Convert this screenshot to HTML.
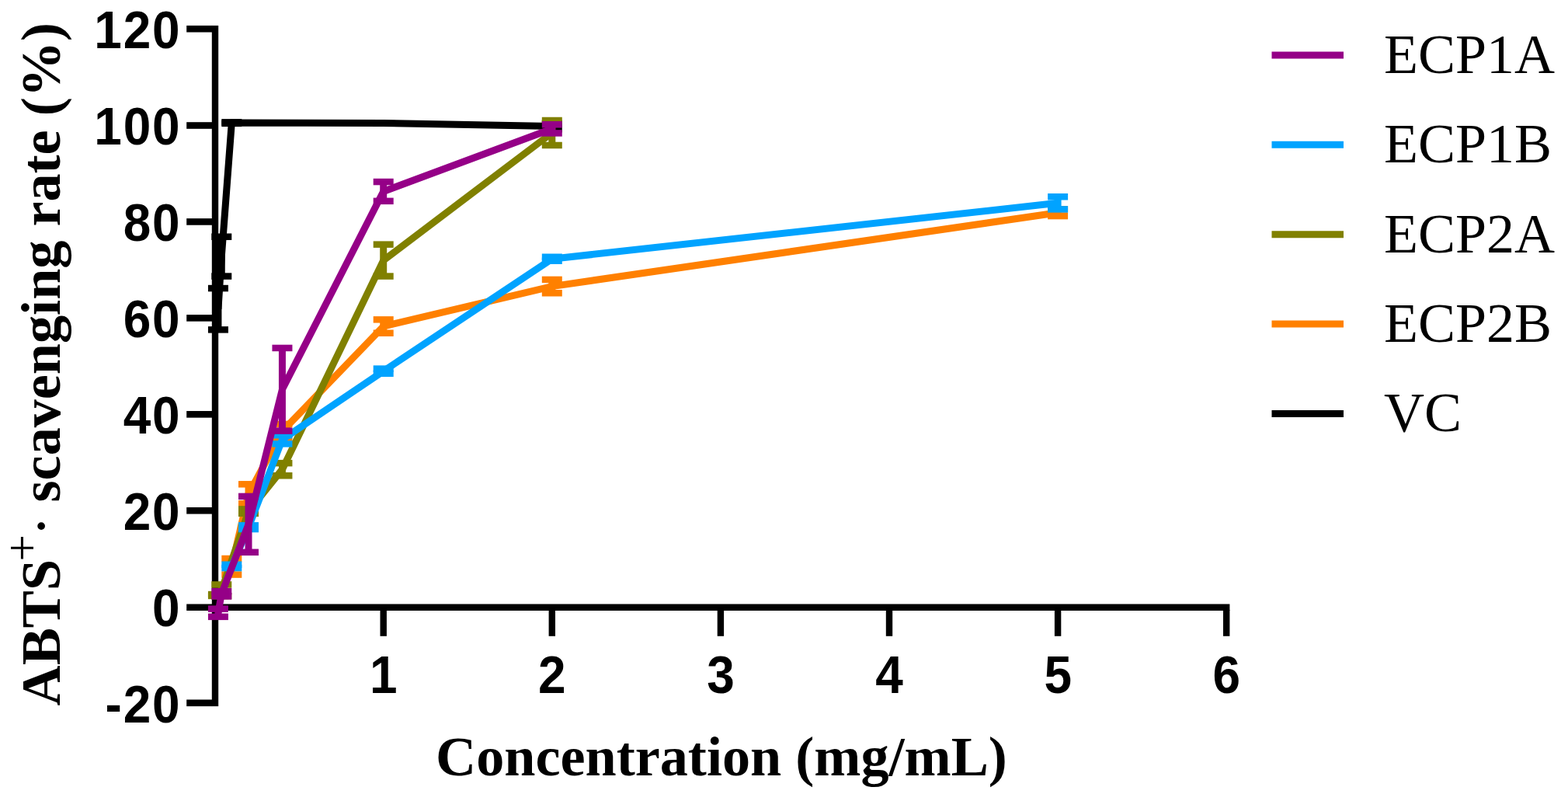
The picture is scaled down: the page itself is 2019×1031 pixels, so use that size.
<!DOCTYPE html>
<html><head><meta charset="utf-8"><title>ABTS scavenging rate</title>
<style>
html,body{margin:0;padding:0;background:#fff;}
svg{display:block;}
.tk{font-family:"Liberation Sans",Arial,sans-serif;font-weight:bold;font-size:68px;fill:#000;}
.lg{font-family:"Liberation Serif","Times New Roman",serif;font-size:72px;fill:#000;}
.ttl{font-family:"Liberation Serif","Times New Roman",serif;font-weight:bold;font-size:72.2px;fill:#000;}
</style></head>
<body>
<svg width="2019" height="1031" viewBox="0 0 2019 1031">
<rect width="2019" height="1031" fill="#fff"/>
<g fill="#000">
<rect x="272.8" y="32.9" width="8.4" height="876.2"/>
<rect x="240.2" y="777.5" width="1343.2" height="8.5"/>
<rect x="240.2" y="32.9" width="33" height="8.6"/>
<rect x="240.2" y="157.2" width="33" height="8.6"/>
<rect x="240.2" y="281.14" width="33" height="8.6"/>
<rect x="240.2" y="405.08" width="33" height="8.6"/>
<rect x="240.2" y="529.02" width="33" height="8.6"/>
<rect x="240.2" y="652.96" width="33" height="8.6"/>
<rect x="240.2" y="900.5" width="33" height="8.6"/>
<rect x="489.5" y="785" width="8.4" height="33.8"/>
<rect x="706.6" y="785" width="8.4" height="33.8"/>
<rect x="923.7" y="785" width="8.4" height="33.8"/>
<rect x="1140.8" y="785" width="8.4" height="33.8"/>
<rect x="1357.9" y="785" width="8.4" height="33.8"/>
<rect x="1575" y="785" width="8.4" height="33.8"/>
</g>
<g stroke-linecap="butt">
<g stroke="#000000"><line x1="280.94" y1="371.06" x2="280.94" y2="424.38" stroke-width="9.0"/><line x1="267.94" y1="371.06" x2="293.94" y2="371.06" stroke-width="8.5"/><line x1="267.94" y1="424.38" x2="293.94" y2="424.38" stroke-width="8.5"/><line x1="285.28" y1="304.72" x2="285.28" y2="355.56" stroke-width="9.0"/><line x1="272.28" y1="304.72" x2="298.28" y2="304.72" stroke-width="8.5"/><line x1="272.28" y1="355.56" x2="298.28" y2="355.56" stroke-width="8.5"/><line x1="298.31" y1="157.35" x2="298.31" y2="158.83" stroke-width="9.0"/><line x1="285.31" y1="157.35" x2="311.31" y2="157.35" stroke-width="8.5"/><line x1="285.31" y1="158.83" x2="311.31" y2="158.83" stroke-width="8.5"/><line x1="710.8" y1="158.77" x2="710.8" y2="166.21" stroke-width="9.0"/><line x1="697.8" y1="158.77" x2="723.8" y2="158.77" stroke-width="8.5"/><line x1="697.8" y1="166.21" x2="723.8" y2="166.21" stroke-width="8.5"/><polyline points="280.94,397.72 285.28,330.14 298.31,158.09 493.7,158.4 710.8,162.49" stroke-width="9.0" fill="none" stroke-linejoin="round"/></g>
<g stroke="#FF8000"><line x1="298.31" y1="719" x2="298.31" y2="739.59" stroke-width="9.0"/><line x1="285.31" y1="719" x2="311.31" y2="719" stroke-width="8.5"/><line x1="285.31" y1="739.59" x2="311.31" y2="739.59" stroke-width="8.5"/><line x1="320.02" y1="623.28" x2="320.02" y2="648.32" stroke-width="9.0"/><line x1="307.02" y1="623.28" x2="333.02" y2="623.28" stroke-width="8.5"/><line x1="307.02" y1="648.32" x2="333.02" y2="648.32" stroke-width="8.5"/><line x1="363.44" y1="545.9" x2="363.44" y2="564.5" stroke-width="9.0"/><line x1="350.44" y1="545.9" x2="376.44" y2="545.9" stroke-width="8.5"/><line x1="350.44" y1="564.5" x2="376.44" y2="564.5" stroke-width="8.5"/><line x1="493.7" y1="411.36" x2="493.7" y2="428.72" stroke-width="9.0"/><line x1="480.7" y1="411.36" x2="506.7" y2="411.36" stroke-width="8.5"/><line x1="480.7" y1="428.72" x2="506.7" y2="428.72" stroke-width="8.5"/><line x1="710.8" y1="359.9" x2="710.8" y2="377.26" stroke-width="9.0"/><line x1="697.8" y1="359.9" x2="723.8" y2="359.9" stroke-width="8.5"/><line x1="697.8" y1="377.26" x2="723.8" y2="377.26" stroke-width="8.5"/><line x1="1362.1" y1="269.38" x2="1362.1" y2="278.06" stroke-width="9.0"/><line x1="1349.1" y1="269.38" x2="1375.1" y2="269.38" stroke-width="8.5"/><line x1="1349.1" y1="278.06" x2="1375.1" y2="278.06" stroke-width="8.5"/><polyline points="298.31,729.3 320.02,635.8 363.44,555.2 493.7,420.04 710.8,368.58 1362.1,273.72" stroke-width="9.0" fill="none" stroke-linejoin="round"/></g>
<g stroke="#808000"><line x1="280.94" y1="765.07" x2="280.94" y2="766.93" stroke-width="9.0"/><line x1="267.94" y1="765.07" x2="293.94" y2="765.07" stroke-width="8.5"/><line x1="267.94" y1="766.93" x2="293.94" y2="766.93" stroke-width="8.5"/><line x1="285.28" y1="752.48" x2="285.28" y2="767.12" stroke-width="9.0"/><line x1="272.28" y1="752.48" x2="298.28" y2="752.48" stroke-width="8.5"/><line x1="272.28" y1="767.12" x2="298.28" y2="767.12" stroke-width="8.5"/><line x1="320.02" y1="655.39" x2="320.02" y2="660.85" stroke-width="9.0"/><line x1="307.02" y1="655.39" x2="333.02" y2="655.39" stroke-width="8.5"/><line x1="307.02" y1="660.85" x2="333.02" y2="660.85" stroke-width="8.5"/><line x1="363.44" y1="596.12" x2="363.44" y2="612.24" stroke-width="9.0"/><line x1="350.44" y1="596.12" x2="376.44" y2="596.12" stroke-width="8.5"/><line x1="350.44" y1="612.24" x2="376.44" y2="612.24" stroke-width="8.5"/><line x1="493.7" y1="314.64" x2="493.7" y2="355.56" stroke-width="9.0"/><line x1="480.7" y1="314.64" x2="506.7" y2="314.64" stroke-width="8.5"/><line x1="480.7" y1="355.56" x2="506.7" y2="355.56" stroke-width="8.5"/><line x1="710.8" y1="154.99" x2="710.8" y2="186.98" stroke-width="9.0"/><line x1="697.8" y1="154.99" x2="723.8" y2="154.99" stroke-width="8.5"/><line x1="697.8" y1="186.98" x2="723.8" y2="186.98" stroke-width="8.5"/><polyline points="280.94,766 285.28,759.8 320.02,658.12 363.44,604.18 493.7,335.1 710.8,170.99" stroke-width="9.0" fill="none" stroke-linejoin="round"/></g>
<g stroke="#00A3FF"><line x1="298.31" y1="726.75" x2="298.31" y2="731.09" stroke-width="9.0"/><line x1="285.31" y1="726.75" x2="311.31" y2="726.75" stroke-width="8.5"/><line x1="285.31" y1="731.09" x2="311.31" y2="731.09" stroke-width="8.5"/><line x1="320.02" y1="676.35" x2="320.02" y2="681.06" stroke-width="9.0"/><line x1="307.02" y1="676.35" x2="333.02" y2="676.35" stroke-width="8.5"/><line x1="307.02" y1="681.06" x2="333.02" y2="681.06" stroke-width="8.5"/><line x1="363.44" y1="560.16" x2="363.44" y2="571.32" stroke-width="9.0"/><line x1="350.44" y1="560.16" x2="376.44" y2="560.16" stroke-width="8.5"/><line x1="350.44" y1="571.32" x2="376.44" y2="571.32" stroke-width="8.5"/><line x1="493.7" y1="474.6" x2="493.7" y2="480.8" stroke-width="9.0"/><line x1="480.7" y1="474.6" x2="506.7" y2="474.6" stroke-width="8.5"/><line x1="480.7" y1="480.8" x2="506.7" y2="480.8" stroke-width="8.5"/><line x1="710.8" y1="330.76" x2="710.8" y2="335.72" stroke-width="9.0"/><line x1="697.8" y1="330.76" x2="723.8" y2="330.76" stroke-width="8.5"/><line x1="697.8" y1="335.72" x2="723.8" y2="335.72" stroke-width="8.5"/><line x1="1362.1" y1="253.26" x2="1362.1" y2="269.38" stroke-width="9.0"/><line x1="1349.1" y1="253.26" x2="1375.1" y2="253.26" stroke-width="8.5"/><line x1="1349.1" y1="269.38" x2="1375.1" y2="269.38" stroke-width="8.5"/><polyline points="298.31,728.92 320.02,678.7 363.44,565.74 493.7,477.7 710.8,333.24 1362.1,261.32" stroke-width="9.0" fill="none" stroke-linejoin="round"/></g>
<g stroke="#950087"><line x1="280.94" y1="783.67" x2="280.94" y2="793.84" stroke-width="9.0"/><line x1="267.94" y1="783.67" x2="293.94" y2="783.67" stroke-width="8.5"/><line x1="267.94" y1="793.84" x2="293.94" y2="793.84" stroke-width="8.5"/><line x1="285.28" y1="761.16" x2="285.28" y2="767.49" stroke-width="9.0"/><line x1="272.28" y1="761.16" x2="298.28" y2="761.16" stroke-width="8.5"/><line x1="272.28" y1="767.49" x2="298.28" y2="767.49" stroke-width="8.5"/><line x1="320.02" y1="638.9" x2="320.02" y2="710.82" stroke-width="9.0"/><line x1="307.02" y1="638.9" x2="333.02" y2="638.9" stroke-width="8.5"/><line x1="307.02" y1="710.82" x2="333.02" y2="710.82" stroke-width="8.5"/><line x1="363.44" y1="447.94" x2="363.44" y2="554.58" stroke-width="9.0"/><line x1="350.44" y1="447.94" x2="376.44" y2="447.94" stroke-width="8.5"/><line x1="350.44" y1="554.58" x2="376.44" y2="554.58" stroke-width="8.5"/><line x1="493.7" y1="234.04" x2="493.7" y2="258.84" stroke-width="9.0"/><line x1="480.7" y1="234.04" x2="506.7" y2="234.04" stroke-width="8.5"/><line x1="480.7" y1="258.84" x2="506.7" y2="258.84" stroke-width="8.5"/><line x1="710.8" y1="160.26" x2="710.8" y2="171.42" stroke-width="9.0"/><line x1="697.8" y1="160.26" x2="723.8" y2="160.26" stroke-width="8.5"/><line x1="697.8" y1="171.42" x2="723.8" y2="171.42" stroke-width="8.5"/><polyline points="280.94,788.75 285.28,764.33 320.02,674.86 363.44,501.26 493.7,246.44 710.8,165.84" stroke-width="9.0" fill="none" stroke-linejoin="round"/></g>
</g>
<g class="tk">
<text transform="translate(233.5,62.06) scale(0.94,1)" text-anchor="end" letter-spacing="2.0">120</text>
<text transform="translate(233.5,186) scale(0.94,1)" text-anchor="end" letter-spacing="2.0">100</text>
<text transform="translate(233.5,309.94) scale(0.94,1)" text-anchor="end" letter-spacing="2.0">80</text>
<text transform="translate(233.5,433.88) scale(0.94,1)" text-anchor="end" letter-spacing="2.0">60</text>
<text transform="translate(233.5,557.82) scale(0.94,1)" text-anchor="end" letter-spacing="2.0">40</text>
<text transform="translate(233.5,681.76) scale(0.94,1)" text-anchor="end" letter-spacing="2.0">20</text>
<text transform="translate(233.5,805.7) scale(0.94,1)" text-anchor="end" letter-spacing="2.0">0</text>
<text transform="translate(233.5,929.64) scale(0.94,1)" text-anchor="end" letter-spacing="2.0">-20</text>
<text transform="translate(494.7,891.7) scale(0.94,1)" text-anchor="middle" letter-spacing="2.0">1</text>
<text transform="translate(711.8,891.7) scale(0.94,1)" text-anchor="middle" letter-spacing="2.0">2</text>
<text transform="translate(928.9,891.7) scale(0.94,1)" text-anchor="middle" letter-spacing="2.0">3</text>
<text transform="translate(1146,891.7) scale(0.94,1)" text-anchor="middle" letter-spacing="2.0">4</text>
<text transform="translate(1363.1,891.7) scale(0.94,1)" text-anchor="middle" letter-spacing="2.0">5</text>
<text transform="translate(1580.2,891.7) scale(0.94,1)" text-anchor="middle" letter-spacing="2.0">6</text>
</g>
<g>
<line x1="1637.5" y1="71" x2="1730" y2="71" stroke="#950087" stroke-width="9"/>
<text x="1782" y="94" class="lg">ECP1A</text>
<line x1="1637.5" y1="186.35" x2="1730" y2="186.35" stroke="#00A3FF" stroke-width="9"/>
<text x="1782" y="209.35" class="lg">ECP1B</text>
<line x1="1637.5" y1="301.7" x2="1730" y2="301.7" stroke="#808000" stroke-width="9"/>
<text x="1782" y="324.7" class="lg">ECP2A</text>
<line x1="1637.5" y1="417.05" x2="1730" y2="417.05" stroke="#FF8000" stroke-width="9"/>
<text x="1782" y="440.05" class="lg">ECP2B</text>
<line x1="1637.5" y1="532.4" x2="1730" y2="532.4" stroke="#000000" stroke-width="9"/>
<text x="1782" y="555.4" class="lg">VC</text>
</g>
<text class="ttl" x="929" y="997.5" text-anchor="middle">Concentration (mg/mL)</text>
<text class="ttl" transform="translate(76.7,908.5) rotate(-90)"><tspan x="0" y="0">ABTS</tspan><tspan x="186" y="-28" font-weight="normal" font-size="61">+</tspan><tspan x="217.8" y="4" font-weight="normal" font-size="82">·</tspan><tspan x="262" y="0">scavenging rate (%)</tspan></text>
</svg>
</body></html>
